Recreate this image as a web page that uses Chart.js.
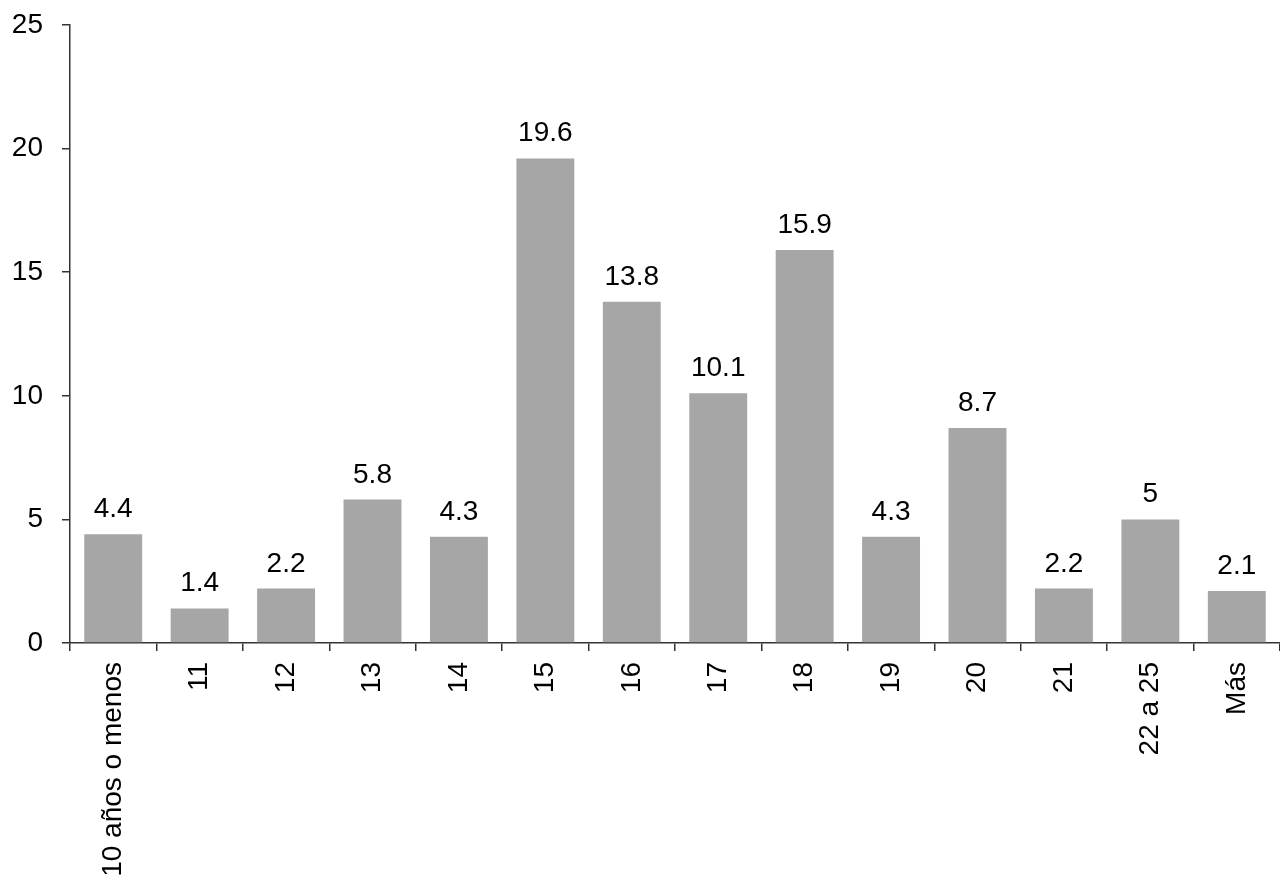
<!DOCTYPE html>
<html>
<head>
<meta charset="utf-8">
<script src="https://cdn.jsdelivr.net/npm/chart.js@4"></script>
<style>
  html, body { margin: 0; padding: 0; background: #fff; }
  #wrap { width: 1280px; height: 884px; }
</style>
</head>
<body>
<div id="wrap"><canvas id="chart"></canvas></div>
<script>
var categories = ['10 años o menos', '11', '12', '13', '14', '15', '16', '17', '18', '19', '20', '21', '22 a 25', 'Más'];
var values = [4.4, 1.4, 2.2, 5.8, 4.3, 19.6, 13.8, 10.1, 15.9, 4.3, 8.7, 2.2, 5, 2.1];
var yTicks = [0, 5, 10, 15, 20, 25];

var fontFamily = '"Liberation Sans", Arial, sans-serif';
var fontSize = 28;

// etiquetas de valor encima de cada barra
var valueLabels = {
    id: 'valueLabels',
    afterDatasetsDraw: function (chart) {
        var ctx = chart.ctx;
        var meta = chart.getDatasetMeta(0);
        ctx.save();
        ctx.font = fontSize + 'px ' + fontFamily;
        ctx.fillStyle = '#000';
        ctx.textAlign = 'center';
        ctx.textBaseline = 'alphabetic';
        meta.data.forEach(function (bar, i) {
            ctx.fillText(String(values[i]), bar.x, bar.y - 17);
        });
        ctx.restore();
    }
};

var ctx = document.getElementById('chart').getContext('2d');
var chart = new Chart(ctx, {
    type: 'bar',
    data: {
        labels: categories,
        datasets: [{
            data: values,
            backgroundColor: '#a6a6a6',
            borderWidth: 0,
            barPercentage: 0.67,
            categoryPercentage: 1
        }]
    },
    options: {
        responsive: true,
        maintainAspectRatio: false,
        animation: false,
        layout: { autoPadding: false, padding: { top: 25, right: 0, left: 0, bottom: 0 } },
        plugins: {
            legend: { display: false },
            tooltip: { enabled: false }
        },
        scales: {
            x: {
                grid: { drawOnChartArea: false, drawTicks: true, tickLength: 8, color: '#333', lineWidth: 1.5 },
                border: { color: '#333', width: 1.5 },
                ticks: {
                    color: '#000',
                    font: { family: fontFamily, size: fontSize },
                    minRotation: 90,
                    maxRotation: 90,
                    autoSkip: false,
                    padding: 11
                },
                afterFit: function (scale) { scale.height = 241; scale.paddingLeft = 0; scale.paddingRight = 0; }
            },
            y: {
                min: 0,
                max: 25,
                afterBuildTicks: function (scale) {
                    scale.ticks = yTicks.map(function (v) { return { value: v }; });
                },
                grid: { drawOnChartArea: false, drawTicks: true, tickLength: 8, color: '#333', lineWidth: 1.5 },
                border: { color: '#333', width: 1.5 },
                ticks: {
                    color: '#000',
                    font: { family: fontFamily, size: fontSize },
                    padding: 19
                },
                afterFit: function (scale) { scale.width = 70; scale.paddingTop = 0; scale.paddingBottom = 0; }
            }
        }
    },
    plugins: [valueLabels]
});
</script>
</body>
</html>
